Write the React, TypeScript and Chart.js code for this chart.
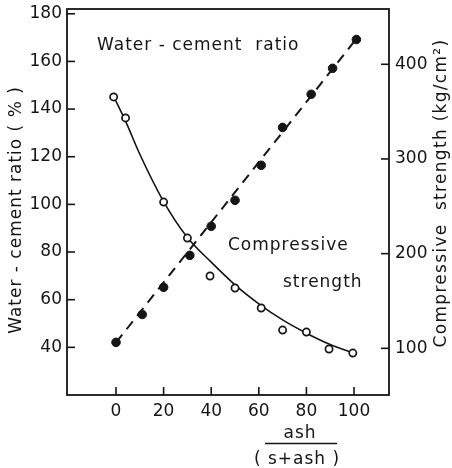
import React, { useEffect, useRef } from 'react';
import { Chart, registerables } from 'chart.js';
Chart.register(...registerables);

// Water-cement ratio (%) – filled dots, left axis
const wcX = [0, 11, 20, 31, 40, 50, 61, 70, 82, 91, 101];
const wcY = [42.1, 53.8, 65.2, 78.6, 90.8, 101.7, 116.4, 132.3, 146.2, 157.1, 169.2];
// dashed trend line of water-cement ratio
const wcFitX = [0, 101];
const wcFitY = [42, 169.5];
// Compressive strength (kg/cm2) – open circles, right axis
const csX = [-1, 4, 20, 30, 39.5, 50, 61, 70, 80, 89.5, 99.5];
const csY = [365.5, 343.3, 254.5, 216.5, 176.4, 163.7, 142.6, 119.3, 117.2, 99.3, 95];
// fitted curve of compressive strength
const csCurveX = [-1, 4, 10, 20, 30, 40, 50, 60, 70, 80, 90, 99.6];
const csCurveY = [366, 340, 305, 255, 217, 191, 167, 147, 130, 116, 104, 95];

const xTicks = [0, 20, 40, 60, 80, 100];
const leftTicks = [40, 60, 80, 100, 120, 140, 160, 180];
const rightTicks = [100, 200, 300, 400];

const FONT = '"DejaVu Sans", sans-serif';
const INK = '#151515';

const toPts = (xs: number[], ys: number[]) => xs.map((x, i) => ({ x, y: ys[i] }));

const decor = {
  id: 'decor',
  afterDraw(chart: any) {
    const { ctx, chartArea: a, scales } = chart;
    ctx.save();
    ctx.strokeStyle = INK;
    ctx.fillStyle = INK;
    ctx.lineWidth = 1.8;
    ctx.strokeRect(a.left, a.top, a.right - a.left, a.bottom - a.top);
    ctx.lineWidth = 1.6;
    const line = (x1: number, y1: number, x2: number, y2: number) => {
      ctx.beginPath(); ctx.moveTo(x1, y1); ctx.lineTo(x2, y2); ctx.stroke();
    };
    scales.y.ticks.forEach((t: any) => { const p = scales.y.getPixelForValue(t.value); line(a.left, p, a.left + 8, p); });
    scales.y2.ticks.forEach((t: any) => { const p = scales.y2.getPixelForValue(t.value); line(a.right - 8, p, a.right, p); });
    scales.x.ticks.forEach((t: any) => { const p = scales.x.getPixelForValue(t.value); line(p, a.bottom - 8, p, a.bottom); });

    ctx.font = `17px ${FONT}`;
    (ctx as any).letterSpacing = '1px';
    ctx.textBaseline = 'alphabetic';
    ctx.textAlign = 'left';
    ctx.fillText('Water - cement  ratio', 97, 50);
    ctx.fillText('Compressive', 228, 250);
    ctx.fillText('strength', 283, 287);

    ctx.textAlign = 'center';
    ctx.fillText('ash', 300, 438);
    ctx.lineWidth = 1.5;
    line(265, 443.5, 337, 443.5);
    ctx.fillText('( s+ash )', 297, 464);

    ctx.textBaseline = 'middle';
    ctx.save();
    ctx.translate(17, 210);
    ctx.rotate(-Math.PI / 2);
    ctx.fillText('Water - cement ratio ( % )', 0, 0);
    ctx.restore();
    ctx.save();
    ctx.translate(442, 193);
    ctx.rotate(-Math.PI / 2);
    (ctx as any).letterSpacing = '1.3px';
    ctx.fillText('Compressive  strength (kg/cm²)', 0, 0);
    ctx.restore();
    ctx.restore();
  },
};

const fitAxis = (w: number, h: number) => (s: any) => {
  if (w) s.width = w;
  if (h) s.height = h;
  s.paddingTop = 0; s.paddingBottom = 0; s.paddingLeft = 0; s.paddingRight = 0;
};

export default function App() {
  const ref = useRef<HTMLCanvasElement | null>(null);
  useEffect(() => {
    if (!ref.current) return;
    const tickFont = { family: FONT, size: 17 };
    const chart = new Chart(ref.current, {
      type: 'scatter',
      data: {
        datasets: [
          {
            data: toPts(wcX, wcY), yAxisID: 'y', showLine: false,
            pointRadius: 4.3, pointBackgroundColor: INK, pointBorderColor: INK, pointBorderWidth: 1,
          },
          {
            data: toPts(csX, csY), yAxisID: 'y2', showLine: false,
            pointRadius: 3.6, pointBackgroundColor: '#fff', pointBorderColor: INK, pointBorderWidth: 1.7,
          },
          {
            data: toPts(wcFitX, wcFitY), yAxisID: 'y', showLine: true, pointRadius: 0,
            borderColor: INK, borderWidth: 2, borderDash: [10, 7],
          },
          {
            data: toPts(csCurveX, csCurveY), yAxisID: 'y2', showLine: true, pointRadius: 0,
            borderColor: INK, borderWidth: 1.6, tension: 0.4, cubicInterpolationMode: 'monotone',
          },
        ],
      },
      options: {
        responsive: false,
        animation: false,
        devicePixelRatio: 1,
        layout: { padding: { top: 9, left: 0, right: 0, bottom: 0 } },
        plugins: { legend: { display: false }, tooltip: { enabled: false } },
        scales: {
          x: {
            type: 'linear', min: -20.6, max: 114.7,
            grid: { display: false, drawTicks: false },
            border: { display: false },
            ticks: { font: tickFont, color: INK, padding: 6, maxRotation: 0 },
            afterBuildTicks: (s: any) => { s.ticks = xTicks.map((v) => ({ value: v })); },
            afterFit: fitAxis(0, 73),
          },
          y: {
            type: 'linear', position: 'left', min: 20, max: 182,
            grid: { display: false, drawTicks: false },
            border: { display: false },
            ticks: { font: tickFont, color: INK, padding: 5 },
            afterBuildTicks: (s: any) => { s.ticks = leftTicks.map((v) => ({ value: v })); },
            afterFit: fitAxis(67, 0),
          },
          y2: {
            type: 'linear', position: 'right', min: 50.7, max: 458.4,
            grid: { display: false, drawTicks: false },
            border: { display: false },
            ticks: { font: tickFont, color: INK, padding: 6 },
            afterBuildTicks: (s: any) => { s.ticks = rightTicks.map((v) => ({ value: v })); },
            afterFit: fitAxis(63, 0),
          },
        },
      } as any,
      plugins: [decor],
    });
    return () => chart.destroy();
  }, []);
  return (
    <div style={{ position: 'fixed', left: 0, top: 0, width: 452, height: 468, background: '#fff' }}>
      <canvas ref={ref} width={452} height={468} style={{ width: 452, height: 468, display: 'block' }} />
    </div>
  );
}
